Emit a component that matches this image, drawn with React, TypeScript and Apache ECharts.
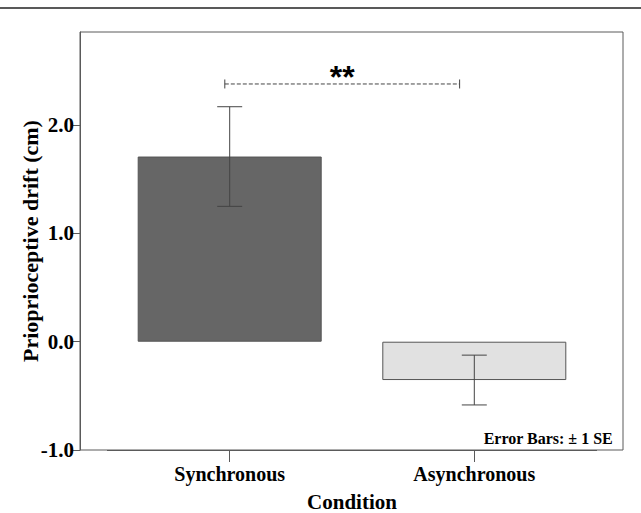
import React, { useEffect, useRef } from "react";
import * as echarts from "echarts";

const categories = ["Synchronous", "Asynchronous"];
const means = [1.71, -0.354];
const stdErrors = [0.46, 0.23];
const barColors = ["#666666", "#e1e1e1"];
const yTickValues = [-1, 0, 1, 2];
const yMin = -1;
const yMax = 2.86;
const bracketY = 2.38;
const bracketEnds = [-0.02, 0.94];
const sigLabel = "**";
const noteText = "Error Bars: \u00b1 1 SE";
const yTitle = "Prioprioceptive drift (cm)";
const xTitle = "Condition";

const SERIF = '"Liberation Serif", "Times New Roman", serif';
const SANS = '"Liberation Sans", Arial, sans-serif';
const LINE = "#5a5a5a";

export default function App() {
  const ref = useRef<HTMLDivElement>(null);
  useEffect(() => {
    if (!ref.current) return;
    const chart = echarts.init(ref.current, undefined, { renderer: "svg" });
    const errData = categories.map((_, i) => [i, means[i] - stdErrors[i], means[i] + stdErrors[i]]);
    chart.setOption({
      animation: false,
      backgroundColor: "#ffffff",
      grid: [
        {
          left: 80, top: 32, width: 543, height: 418, show: true, borderColor: LINE, borderWidth: 1,
          backgroundColor: "transparent", containLabel: false, outerBoundsMode: "none",
        },
        { left: 107.4, top: 32, width: 489.2, height: 418, containLabel: false, outerBoundsMode: "none" },
      ],
      xAxis: [
        { type: "value", gridIndex: 0, show: false, min: 0, max: 1 },
        {
          type: "category",
          gridIndex: 1,
          data: categories,
          axisLine: { show: true, onZero: false, lineStyle: { color: LINE, width: 1 } },
          axisTick: { show: true, alignWithLabel: true, length: 12, lineStyle: { color: LINE, width: 1 } },
          axisLabel: { fontFamily: SERIF, fontWeight: "bold", fontSize: 20, color: "#000", margin: 14 },
          name: xTitle,
          nameLocation: "middle",
          nameGap: 43,
          nameMoveOverlap: false,
          nameTextStyle: { fontFamily: SERIF, fontWeight: "bold", fontSize: 21, lineHeight: 18, color: "#000" },
        },
      ],
      yAxis: [
        { type: "value", gridIndex: 0, show: false, min: 0, max: 1, splitLine: { show: false } },
        {
          type: "value",
          gridIndex: 1,
          offset: 27.4,
          min: yMin,
          max: yMax,
          interval: 1,
          splitLine: { show: false },
          axisLine: { show: true, onZero: false, lineStyle: { color: LINE, width: 1 } },
          axisTick: { show: true, length: 7, customValues: yTickValues, lineStyle: { color: LINE, width: 1 } },
          axisLabel: {
            customValues: yTickValues,
            formatter: (v: number) => v.toFixed(1),
            fontFamily: SERIF,
            fontWeight: "bold",
            fontSize: 21,
            color: "#000",
            margin: 6,
          },
          name: yTitle,
          nameLocation: "middle",
          nameGap: 40,
          nameMoveOverlap: false,
          nameTextStyle: { fontFamily: SERIF, fontWeight: "bold", fontSize: 22, lineHeight: 20, color: "#000" },
        },
      ],
      series: [
        {
          type: "bar",
          xAxisIndex: 1,
          yAxisIndex: 1,
          barWidth: 184,
          data: means.map((v, i) => ({
            value: v,
            itemStyle: { color: barColors[i], borderColor: "#555", borderWidth: 1 },
          })),
          z: 2,
        },
        {
          type: "custom",
          xAxisIndex: 1,
          yAxisIndex: 1,
          z: 3,
          data: errData,
          renderItem: (params: any, api: any) => {
            const lo = api.coord([api.value(0), api.value(1)]);
            const hi = api.coord([api.value(0), api.value(2)]);
            const w = 12.5;
            const style = { stroke: "#444", lineWidth: 1, fill: null };
            return {
              type: "group",
              children: [
                { type: "line", shape: { x1: lo[0], y1: lo[1], x2: hi[0], y2: hi[1] }, style },
                { type: "line", shape: { x1: lo[0] - w, y1: lo[1], x2: lo[0] + w, y2: lo[1] }, style },
                { type: "line", shape: { x1: hi[0] - w, y1: hi[1], x2: hi[0] + w, y2: hi[1] }, style },
              ],
            };
          },
        },
        {
          type: "custom",
          xAxisIndex: 1,
          yAxisIndex: 1,
          z: 3,
          data: [[0, bracketY]],
          renderItem: (params: any, api: any) => {
            const p0 = api.coord([0, bracketY]);
            const p1 = api.coord([1, bracketY]);
            const span = p1[0] - p0[0];
            const xl = p0[0] + bracketEnds[0] * span;
            const xr = p0[0] + bracketEnds[1] * span;
            const y = p0[1];
            const s = { stroke: "#444", lineWidth: 1, fill: null };
            return {
              type: "group",
              children: [
                { type: "line", shape: { x1: xl, y1: y, x2: xr, y2: y }, style: { ...s, lineDash: [4, 2] } },
                { type: "line", shape: { x1: xl, y1: y - 4.5, x2: xl, y2: y + 4.5 }, style: s },
                { type: "line", shape: { x1: xr, y1: y - 4.5, x2: xr, y2: y + 4.5 }, style: s },
                {
                  type: "text",
                  x: (xl + xr) / 2,
                  y: y - 7,
                  style: {
                    text: sigLabel,
                    font: `bold 32px ${SANS}`,
                    fill: "#000",
                    align: "center",
                    verticalAlign: "middle",
                    textAlign: "center",
                    textVerticalAlign: "middle",
                  },
                },
              ],
            };
          },
        },
      ],
      graphic: [
        { type: "line", shape: { x1: 0, y1: 8, x2: 641, y2: 8 }, style: { stroke: "#222", lineWidth: 1.6 } },
        {
          type: "text",
          right: 28,
          top: 430,
          style: { text: noteText, font: `bold 16px ${SERIF}`, fill: "#000" },
        },
      ],
    });
    return () => chart.dispose();
  }, []);
  return <div ref={ref} style={{ position: "fixed", left: 0, top: 0, width: 641, height: 513 }} />;
}
